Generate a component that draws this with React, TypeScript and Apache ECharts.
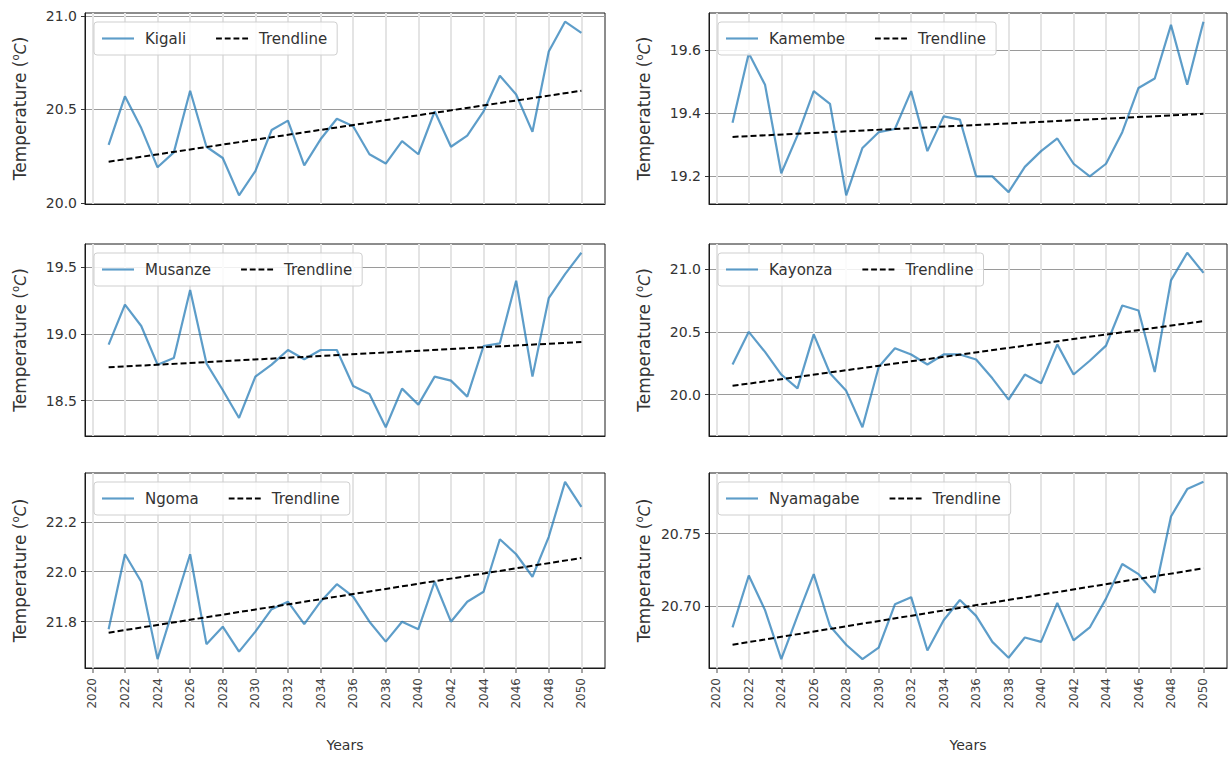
import React, { useEffect, useRef } from "react";
import * as echarts from "echarts";

// Projected annual mean temperature by district, 2021–2050
const years = [
  2021, 2022, 2023, 2024, 2025, 2026, 2027, 2028, 2029, 2030,
  2031, 2032, 2033, 2034, 2035, 2036, 2037, 2038, 2039, 2040,
  2041, 2042, 2043, 2044, 2045, 2046, 2047, 2048, 2049, 2050,
];
const xTicks = [2020, 2022, 2024, 2026, 2028, 2030, 2032, 2034, 2036, 2038, 2040, 2042, 2044, 2046, 2048, 2050];

const kigali = [
  20.31, 20.57, 20.40, 20.19, 20.27, 20.60, 20.30, 20.24, 20.04, 20.17,
  20.39, 20.44, 20.20, 20.34, 20.45, 20.41, 20.26, 20.21, 20.33, 20.26,
  20.49, 20.30, 20.36, 20.49, 20.68, 20.58, 20.38, 20.81, 20.97, 20.91,
];
const kamembe = [
  19.37, 19.59, 19.49, 19.21, 19.33, 19.47, 19.43, 19.14, 19.29, 19.34,
  19.35, 19.47, 19.28, 19.39, 19.38, 19.20, 19.20, 19.15, 19.23, 19.28,
  19.32, 19.24, 19.20, 19.24, 19.34, 19.48, 19.51, 19.68, 19.49, 19.69,
];
const musanze = [
  18.92, 19.22, 19.06, 18.77, 18.82, 19.33, 18.78, 18.58, 18.37, 18.68,
  18.77, 18.88, 18.81, 18.88, 18.88, 18.61, 18.55, 18.30, 18.59, 18.47,
  18.68, 18.65, 18.53, 18.91, 18.93, 19.40, 18.68, 19.27, 19.45, 19.61,
];
const kayonza = [
  20.24, 20.50, 20.34, 20.16, 20.05, 20.48, 20.17, 20.03, 19.74, 20.22,
  20.37, 20.32, 20.24, 20.32, 20.32, 20.28, 20.13, 19.96, 20.16, 20.09,
  20.40, 20.16, 20.27, 20.39, 20.71, 20.67, 20.18, 20.91, 21.13, 20.97,
];
const ngoma = [
  21.77, 22.07, 21.96, 21.65, 21.86, 22.07, 21.71, 21.78, 21.68, 21.76,
  21.85, 21.88, 21.79, 21.88, 21.95, 21.90, 21.80, 21.72, 21.80, 21.77,
  21.96, 21.80, 21.88, 21.92, 22.13, 22.07, 21.98, 22.14, 22.36, 22.26,
];
const nyamagabe = [
  20.685, 20.721, 20.697, 20.663, 20.693, 20.722, 20.686, 20.673, 20.663, 20.671,
  20.701, 20.706, 20.669, 20.690, 20.704, 20.693, 20.675, 20.664, 20.678, 20.675,
  20.702, 20.676, 20.685, 20.705, 20.729, 20.722, 20.709, 20.762, 20.781, 20.786,
];

// Trendline values at the first and last year
const trendKigali = [20.22, 20.60];
const trendKamembe = [19.325, 19.398];
const trendMusanze = [18.75, 18.94];
const trendKayonza = [20.07, 20.585];
const trendNgoma = [21.756, 22.055];
const trendNyamagabe = [20.673, 20.726];

// Y tick values per panel
const ticksKigali = [20.0, 20.5, 21.0];
const ticksKamembe = [19.2, 19.4, 19.6];
const ticksMusanze = [18.5, 19.0, 19.5];
const ticksKayonza = [20.0, 20.5, 21.0];
const ticksNgoma = [21.8, 22.0, 22.2];
const ticksNyamagabe = [20.7, 20.75];

const panels = [
  { name: "Kigali", values: kigali, trend: trendKigali, yTicks: ticksKigali, step: 0.5, digits: 1 },
  { name: "Kamembe", values: kamembe, trend: trendKamembe, yTicks: ticksKamembe, step: 0.2, digits: 1 },
  { name: "Musanze", values: musanze, trend: trendMusanze, yTicks: ticksMusanze, step: 0.5, digits: 1 },
  { name: "Kayonza", values: kayonza, trend: trendKayonza, yTicks: ticksKayonza, step: 0.5, digits: 1 },
  { name: "Ngoma", values: ngoma, trend: trendNgoma, yTicks: ticksNgoma, step: 0.2, digits: 1 },
  { name: "Nyamagabe", values: nyamagabe, trend: trendNyamagabe, yTicks: ticksNyamagabe, step: 0.05, digits: 2 },
];

// Layout of the 3x2 panel grid (pixels)
const colLeft = [85, 709];
const colWidth = [520, 518];
const rowTop = [13, 244, 473];
const rowHeight = [191, 192, 195];

const FONT = "DejaVu Sans";
const LINE_COLOR = "rgba(31,119,180,0.72)";

// Legend glyphs: a solid stroke and a dashed stroke
const SOLID_ICON = "path://M0 0H33V2.2H0Z";
const DASH_ICON = "path://M0 0H6V2.2H0Z M9 0H15V2.2H9Z M18 0H24V2.2H18Z M27 0H33V2.2H27Z";

function padded(vals: number[]): [number, number] {
  const lo = Math.min(...vals);
  const hi = Math.max(...vals);
  const m = (hi - lo) * 0.05;
  return [lo - m, hi + m];
}

function near(list: number[], v: number, eps: number) {
  return list.some((t) => Math.abs(t - v) < eps);
}

function buildOption() {
  const grid: any[] = [];
  const xAxis: any[] = [];
  const yAxis: any[] = [];
  const series: any[] = [];
  const legend: any[] = [];
  const [xMin, xMax] = padded(years);

  panels.forEach((p, i) => {
    const col = i % 2;
    const row = Math.floor(i / 2);
    const bottom = row === 2;
    const left = colLeft[col];
    const top = rowTop[row];
    grid.push({
      left,
      top,
      width: colWidth[col],
      height: rowHeight[row],
      show: true,
      borderColor: "#1a1a1a",
      borderWidth: 1,
      backgroundColor: "transparent",
    });
    xAxis.push({
      type: "value",
      gridIndex: i,
      min: xMin,
      max: xMax,
      minInterval: 2,
      maxInterval: 2,
      name: bottom ? "Years" : "",
      nameLocation: "middle",
      nameGap: 70,
      nameTextStyle: { fontFamily: FONT, fontSize: 14, color: "#333" },
      axisLine: { show: true, onZero: false, lineStyle: { color: "#1a1a1a", width: 1 } },
      axisTick: { show: bottom, length: 5, lineStyle: { color: "#888", width: 1.5 }, customValues: xTicks },
      axisLabel: {
        show: bottom,
        rotate: 90,
        margin: 10,
        fontFamily: FONT,
        fontSize: 12,
        color: "#444",
        customValues: xTicks,
        formatter: (v: number) => (near(xTicks, v, 0.01) ? String(Math.round(v)) : ""),
      },
      splitLine: { show: true, lineStyle: { color: "#e4e4e4", width: 2 } },
    });
    const [yMin, yMax] = padded(p.values);
    yAxis.push({
      type: "value",
      gridIndex: i,
      min: yMin,
      max: yMax,
      minInterval: p.step,
      maxInterval: p.step,
      name: "Temperature ({sup|o}{it|C})",
      nameLocation: "middle",
      nameRotate: 90,
      nameGap: 55,
      nameTextStyle: {
        fontFamily: FONT,
        fontSize: 17,
        color: "#333",
        rich: {
          sup: { fontFamily: FONT, fontSize: 10, color: "#333", verticalAlign: "top", lineHeight: 20 },
          it: { fontFamily: FONT, fontSize: 16, color: "#333", fontStyle: "italic" },
        },
      },
      axisLine: { show: true, onZero: false, lineStyle: { color: "#1a1a1a", width: 1 } },
      axisTick: { show: true, length: 4, lineStyle: { color: "#333" }, customValues: p.yTicks },
      axisLabel: {
        fontFamily: FONT,
        fontSize: 14,
        color: "#333",
        margin: 8,
        customValues: p.yTicks,
        formatter: (v: number) => (near(p.yTicks, v, p.step / 100) ? v.toFixed(p.digits) : ""),
      },
      splitLine: { show: true, lineStyle: { color: "#9a9a9a", width: 1 } },
    });
    series.push({
      type: "line",
      name: p.name,
      xAxisIndex: i,
      yAxisIndex: i,
      data: years.map((y, k) => [y, p.values[k]]),
      symbol: "none",
      color: LINE_COLOR,
      lineStyle: { color: LINE_COLOR, width: 2.2 },
      z: 3,
    });
    series.push({
      type: "line",
      name: "Trendline",
      xAxisIndex: i,
      yAxisIndex: i,
      data: [
        [years[0], p.trend[0]],
        [years[years.length - 1], p.trend[1]],
      ],
      symbol: "none",
      color: "#000",
      lineStyle: { color: "#000", width: 2, type: [6, 3] },
      z: 4,
    });
    legend.push({
      data: [
        { name: p.name, icon: SOLID_ICON },
        { name: "Trendline", icon: DASH_ICON },
      ],
      left: left + 9,
      top: top + 9,
      orient: "horizontal",
      backgroundColor: "rgba(255,255,255,0.85)",
      borderColor: "#cfcfcf",
      borderWidth: 1,
      borderRadius: 3,
      padding: [9, 10, 9, 8],
      itemWidth: 32,
      itemHeight: 14,
      itemGap: 30,
      selectedMode: false,
      textStyle: { fontFamily: FONT, fontSize: 15, color: "#333", padding: [0, 0, 0, 6] },
    });
  });

  return {
    animation: false,
    backgroundColor: "#ffffff",
    textStyle: { fontFamily: FONT },
    grid,
    xAxis,
    yAxis,
    series,
    legend,
  };
}

export default function App() {
  const ref = useRef<HTMLDivElement>(null);
  useEffect(() => {
    if (!ref.current) return;
    const chart = echarts.init(ref.current, null, { renderer: "svg" });
    chart.setOption(buildOption() as any);
    return () => chart.dispose();
  }, []);
  return (
    <div
      ref={ref}
      style={{ position: "absolute", left: 0, top: 0, width: 1230, height: 759, background: "#fff" }}
    />
  );
}
